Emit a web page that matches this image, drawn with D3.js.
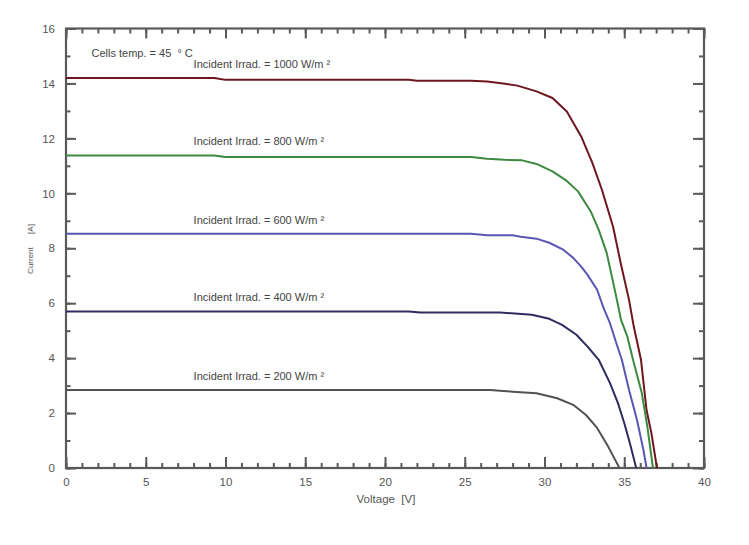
<!DOCTYPE html>
<html>
<head>
<meta charset="utf-8">
<script src="https://cdn.jsdelivr.net/npm/d3@7/dist/d3.min.js"></script>
<style>
  body { margin: 0; background: #fff; }
  svg { display: block; font-family: "Liberation Sans", Arial, sans-serif; }
  text { white-space: pre; }
</style>
</head>
<body>
<svg id="chart" width="749" height="545"></svg>
<script>
// ---- data ----
const irradiances = [1000, 800, 600, 400, 200];
const colors = ["#6e1620", "#3b8a40", "#5b56b4", "#2e2c5e", "#525252"];

const volt1000 = [0, 9.3, 10, 21.5, 22, 25.4, 26.4, 27.4, 28.3, 29.5, 30.5, 31.4, 32.3, 33.0, 33.6, 34.3, 34.8, 35.3, 35.6, 36.05, 36.4, 36.7, 37.05];
const curr1000 = [14.2, 14.2, 14.13, 14.13, 14.1, 14.1, 14.07, 14.0, 13.92, 13.71, 13.47, 12.98, 12.07, 11.11, 10.13, 8.78, 7.4, 6.12, 5.14, 3.94, 2.1, 1.28, 0];

const volt800 = [0, 9.3, 10, 25.4, 26.4, 27.5, 28.6, 29.5, 30.5, 31.4, 32.1, 32.9, 33.4, 33.9, 34.2, 34.5, 34.8, 35.2, 35.55, 36.1, 36.45, 36.8];
const curr800 = [11.38, 11.38, 11.32, 11.32, 11.26, 11.22, 11.2, 11.07, 10.8, 10.45, 10.07, 9.34, 8.67, 7.83, 7.03, 6.23, 5.39, 4.77, 3.94, 2.73, 1.5, 0];

const volt600 = [0, 25.4, 26.4, 28.0, 28.5, 29.5, 30.3, 31.2, 31.8, 32.3, 32.7, 33.3, 33.7, 34.1, 34.5, 34.85, 35.3, 35.8, 36.2, 36.4];
const curr600 = [8.53, 8.53, 8.47, 8.47, 8.42, 8.35, 8.2, 7.94, 7.65, 7.33, 7.03, 6.49, 5.83, 5.28, 4.55, 3.94, 2.84, 1.75, 0.66, 0];

const volt400 = [0, 21.5, 22.2, 27.2, 29.2, 30.3, 31.1, 32.0, 32.7, 33.4, 34.1, 34.6, 35.0, 35.35, 35.75];
const curr400 = [5.7, 5.7, 5.66, 5.66, 5.58, 5.43, 5.21, 4.85, 4.42, 3.94, 3.1, 2.37, 1.64, 0.91, 0];

const volt200 = [0, 26.6, 28.0, 29.5, 30.8, 31.8, 32.6, 33.3, 34.0, 34.7];
const curr200 = [2.84, 2.84, 2.78, 2.72, 2.54, 2.3, 1.93, 1.46, 0.77, 0];

const voltages = [volt1000, volt800, volt600, volt400, volt200];
const currents = [curr1000, curr800, curr600, curr400, curr200];

const xMajorTicks = [0, 5, 10, 15, 20, 25, 30, 35, 40];
const yMajorTicks = [0, 2, 4, 6, 8, 10, 12, 14, 16];
const xLabel = "Voltage  [V]";
const yLabel = "Current      [A]";
const tempLabel = "Cells temp. = 45  ° C";

// ---- layout ----
const svg = d3.select("#chart");
const L = 66, R = 704, T = 28.5, B = 468;
const x = d3.scaleLinear().domain([0, 40]).range([L, R]);
const y = d3.scaleLinear().domain([0, 16]).range([B, T]);
const axisColor = "#5a5a5a";

const xMinor = d3.range(0, 41, 1);
const yMinor = d3.range(0, 17, 1);

function styleAxis(g) {
  g.select(".domain").remove();
  g.selectAll("line").attr("stroke", axisColor).attr("stroke-width", 2);
  g.selectAll("text").attr("fill", "#555").attr("font-size", 11.5);
}

// bottom
svg.append("g").attr("transform", `translate(0,${B})`)
  .call(d3.axisBottom(x).tickValues(xMinor).tickSize(-5).tickFormat(""))
  .call(styleAxis);
svg.append("g").attr("transform", `translate(0,${B})`)
  .call(d3.axisBottom(x).tickValues(xMajorTicks).tickSizeInner(-11).tickSizeOuter(0).tickPadding(10).tickFormat(d3.format("d")))
  .call(styleAxis);
// top
svg.append("g").attr("transform", `translate(0,${T})`)
  .call(d3.axisTop(x).tickValues(xMinor).tickSize(-5).tickFormat(""))
  .call(styleAxis);
svg.append("g").attr("transform", `translate(0,${T})`)
  .call(d3.axisTop(x).tickValues(xMajorTicks).tickSize(-10).tickFormat(""))
  .call(styleAxis);
// left
svg.append("g").attr("transform", `translate(${L},0)`)
  .call(d3.axisLeft(y).tickValues(yMinor).tickSize(-4.5).tickFormat(""))
  .call(styleAxis);
svg.append("g").attr("transform", `translate(${L},0)`)
  .call(d3.axisLeft(y).tickValues(yMajorTicks).tickSizeInner(-10).tickSizeOuter(0).tickPadding(11).tickFormat(d3.format("d")))
  .call(styleAxis);
// right
svg.append("g").attr("transform", `translate(${R},0)`)
  .call(d3.axisRight(y).tickValues(yMinor).tickSize(-5).tickFormat(""))
  .call(styleAxis);
svg.append("g").attr("transform", `translate(${R},0)`)
  .call(d3.axisRight(y).tickValues(yMajorTicks).tickSize(-11).tickFormat(""))
  .call(styleAxis);

// frame
svg.append("rect").attr("x", L).attr("y", T).attr("width", R - L).attr("height", B - T)
  .attr("fill", "none").attr("stroke", axisColor).attr("stroke-width", 2.2);

// curves
const line = d3.line().x(d => x(d[0])).y(d => y(d[1]));
irradiances.forEach((irr, i) => {
  const pts = voltages[i].map((v, j) => [v, currents[i][j]]);
  svg.append("path").datum(pts).attr("d", line)
    .attr("fill", "none").attr("stroke", colors[i]).attr("stroke-width", 2)
    .attr("stroke-linejoin", "round");
  svg.append("text")
    .attr("x", x(8)).attr("y", y(currents[i][0]) - 10)
    .attr("font-size", 11).attr("fill", "#444")
    .text(`Incident Irrad. = ${irr} W/m ²`);
});

svg.append("text").attr("x", x(1.6)).attr("y", 57)
  .attr("font-size", 11).attr("fill", "#444").text(tempLabel);

// axis titles
svg.append("text").attr("x", 386).attr("y", 503)
  .attr("text-anchor", "middle").attr("font-size", 11.5).attr("fill", "#555").text(xLabel);
svg.append("text").attr("transform", `translate(33,${249}) rotate(-90)`)
  .attr("text-anchor", "middle").attr("font-size", 8).attr("fill", "#555")
  .text(yLabel);
</script>
</body>
</html>
